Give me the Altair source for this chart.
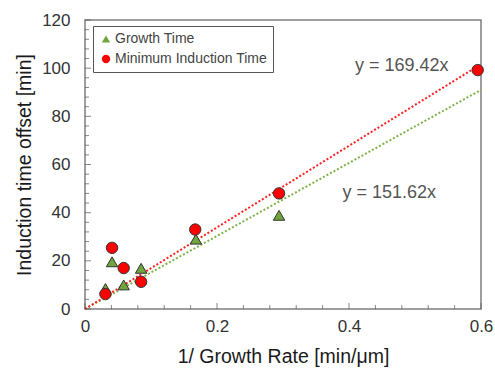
import altair as alt
import pandas as pd

# data
inv_rate_growth = [0.031, 0.041, 0.0586, 0.085, 0.168, 0.294]
growth_time = [8.5, 19.6, 10.0, 16.9, 29.0, 38.9]
inv_rate_induction = [0.031, 0.041, 0.0586, 0.085, 0.167, 0.294, 0.595]
induction_time = [6.2, 25.4, 17.0, 11.3, 33.0, 48.0, 99.2]

series_names = ["Growth Time", "Minimum Induction Time"]
fit_names = ["Growth fit", "Induction fit"]
slopes = [151.62, 169.42]
fit_x_end = [0.6, 0.592]
fit_labels = ["y = 151.62x", "y = 169.42x"]
label_x = [0.461, 0.480]
label_y = [48.3, 101.0]

y_ticks = list(range(0, 121, 4))
x_ticks = [round(i * 0.04, 2) for i in range(0, 16)]

W, H = 396, 289

pts = pd.DataFrame(
    [{"x": a, "y": b, "series": series_names[0]} for a, b in zip(inv_rate_growth, growth_time)]
    + [{"x": a, "y": b, "series": series_names[1]} for a, b in zip(inv_rate_induction, induction_time)]
)
fits = pd.DataFrame(
    [{"x": xx, "y": s * xx, "fit": n}
     for n, s, xe in zip(fit_names, slopes, fit_x_end) for xx in (0.0, xe)]
)
ann = pd.DataFrame({"label": fit_labels, "x": label_x, "y": label_y})
yt = pd.DataFrame({"x": [0.0] * len(y_ticks), "y": y_ticks,
                   "major": [v % 20 == 0 for v in y_ticks]})
xt = pd.DataFrame({"x": x_ticks, "y": [0.0] * len(x_ticks),
                   "major": [round(v * 100) % 20 == 0 for v in x_ticks]})

xs = alt.Scale(domain=[0, 0.6], nice=False, zero=True)
ys = alt.Scale(domain=[0, 120], nice=False, zero=True)
fill_scale = alt.Scale(domain=series_names, range=["#70a43c", "#ff0000"])
shape_scale = alt.Scale(domain=series_names, range=["triangle-up", "circle"])

font = "Liberation Sans"

x_axis = alt.Axis(values=[0, 0.2, 0.4, 0.6], format=".1~f", tickSize=0,
                  domain=False, grid=False, labelFontSize=17, labelPadding=9,
                  labelColor="#333333", titleFontSize=19.5, titleColor="#1a1a1a",
                  titleFontWeight="normal", titlePadding=13, labelFont=font,
                  titleFont=font, labelFlush=False)
y_axis = alt.Axis(values=[0, 20, 40, 60, 80, 100, 120], tickSize=0, domain=False,
                  grid=False, labelFontSize=17, labelPadding=15,
                  labelColor="#333333", titleFontSize=19.5, titleColor="#1a1a1a",
                  titleFontWeight="normal", titlePadding=7, labelFont=font,
                  titleFont=font, labelFlush=False)
x_enc = alt.X("x:Q", scale=xs, title="1/ Growth Rate [min/μm]", axis=x_axis)
y_enc = alt.Y("y:Q", scale=ys, title="Induction time offset [min]", axis=y_axis)

legend = alt.Legend(title=None, orient="none", legendX=8, legendY=6,
                    strokeColor="#555555", padding=6, labelFontSize=14,
                    labelFont=font, labelColor="#444444", symbolSize=70,
                    rowPadding=6, symbolStrokeWidth=0.5, symbolStrokeColor="#333333",
                    labelOffset=2, fillColor="white")

lines = alt.Chart(fits).mark_line(strokeDash=[2, 2], strokeWidth=2).encode(
    x=x_enc, y=y_enc,
    stroke=alt.Stroke("fit:N",
                      scale=alt.Scale(domain=fit_names, range=["#7fb24a", "#ff2020"]),
                      legend=None),
)

tick_color = "#555555"
ytick_major = alt.Chart(yt).transform_filter("datum.major").mark_tick(
    color=tick_color, orient="horizontal", size=6, thickness=1, xOffset=3).encode(
    x=x_enc, y=y_enc)
ytick_minor = alt.Chart(yt).transform_filter("!datum.major").mark_tick(
    color=tick_color, orient="horizontal", size=4, thickness=1, xOffset=2).encode(
    x=x_enc, y=y_enc)
xtick_major = alt.Chart(xt).transform_filter("datum.major").mark_tick(
    color=tick_color, orient="vertical", size=6, thickness=1, yOffset=-3).encode(
    x=x_enc, y=y_enc)
xtick_minor = alt.Chart(xt).transform_filter("!datum.major").mark_tick(
    color=tick_color, orient="vertical", size=4, thickness=1, yOffset=-2).encode(
    x=x_enc, y=y_enc)

points = alt.Chart(pts).mark_point(filled=True, size=130, stroke="#333333",
                                   strokeWidth=1, opacity=1).encode(
    x=x_enc,
    y=y_enc,
    fill=alt.Fill("series:N", scale=fill_scale, legend=legend),
    shape=alt.Shape("series:N", scale=shape_scale, legend=legend),
)

ann_text = alt.Chart(ann).mark_text(fontSize=18, font=font, color="#555555").encode(
    text="label:N", x=x_enc, y=y_enc)

chart = alt.layer(
    lines, ytick_major, ytick_minor, xtick_major, xtick_minor, points, ann_text
).properties(
    width=W, height=H,
    autosize=alt.AutoSizeParams(type="none"),
    padding={"left": 85, "top": 20, "right": 14, "bottom": 59},
    background="white",
).configure_view(stroke="#7f7f7f", strokeWidth=1.5)

chart.save("out.html", embed_options={"renderer": "svg", "actions": False})
